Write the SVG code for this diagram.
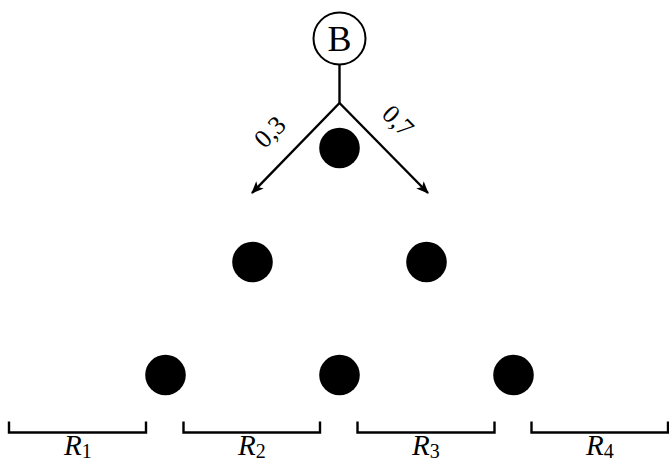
<svg xmlns="http://www.w3.org/2000/svg" width="669" height="464" viewBox="0 0 669 464">
<style>
.ln{fill:none;stroke:#000;stroke-width:2.4}
.dot{fill:#000}
.t{font-family:"Liberation Serif","DejaVu Serif",serif;fill:#000}
.r{font-style:italic;font-size:29px}
.sub{font-style:normal;font-size:20px}
.el{font-size:26px}
</style>
<defs>
<marker id="ah" viewBox="0 0 12 10" refX="11" refY="5" markerWidth="5.2" markerHeight="4.4" orient="auto" markerUnits="strokeWidth">
<path d="M0,0 L12,5 L0,10 L3,5 Z" fill="#000"/>
</marker>
</defs>
<rect width="669" height="464" fill="#fff"/>
<g id="connectors">
<path class="ln" d="M339.5,65 V103"/>
<path class="ln" d="M339.5,103 L252,193" marker-end="url(#ah)"/>
<path class="ln" d="M339.5,103 L428,193" marker-end="url(#ah)"/>
<text class="t el" text-anchor="middle" transform="translate(276,138) rotate(-45)">0,3</text>
<text class="t el" text-anchor="middle" transform="translate(392,127) rotate(45)">0,7</text>
</g>
<g id="B">
<circle cx="339.5" cy="38.5" r="26" fill="#fff" stroke="#000" stroke-width="2"/>
<text class="t" x="339.5" y="51" font-size="36" text-anchor="middle">B</text>
</g>
<g id="dot1"><circle class="dot" cx="339.5" cy="148" r="20.3"/></g>
<g id="dot2"><circle class="dot" cx="252.5" cy="262" r="20.3"/></g>
<g id="dot3"><circle class="dot" cx="426.5" cy="262" r="20.3"/></g>
<g id="dot4"><circle class="dot" cx="165.5" cy="375" r="20.3"/></g>
<g id="dot5"><circle class="dot" cx="339.5" cy="375" r="20.3"/></g>
<g id="dot6"><circle class="dot" cx="513.5" cy="375" r="20.3"/></g>
<g id="R1">
<path class="ln" d="M9,421.5 V432.5 H146 V421.5"/>
<text class="t r" x="64" y="455">R<tspan class="sub" dy="3">1</tspan></text>
</g>
<g id="R2">
<path class="ln" d="M183.5,421.5 V432.5 H320 V421.5"/>
<text class="t r" x="238" y="455">R<tspan class="sub" dy="3">2</tspan></text>
</g>
<g id="R3">
<path class="ln" d="M357.5,421.5 V432.5 H494.5 V421.5"/>
<text class="t r" x="412" y="455">R<tspan class="sub" dy="3">3</tspan></text>
</g>
<g id="R4">
<path class="ln" d="M531.5,421.5 V432.5 H668 V421.5"/>
<text class="t r" x="586" y="455">R<tspan class="sub" dy="3">4</tspan></text>
</g>
</svg>
